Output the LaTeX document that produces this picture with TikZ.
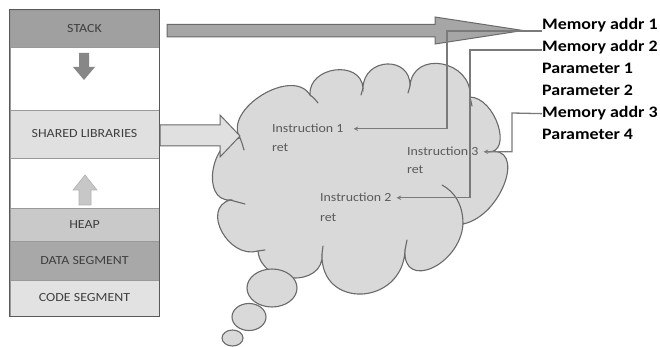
\documentclass[tikz,border=0pt]{standalone}
\usepackage{fontspec}
\setmainfont{Carlito}[FakeStretch=1.12]
\usetikzlibrary{arrows.meta}
\definecolor{stackc}{HTML}{A0A0A0}
\definecolor{sharedc}{HTML}{E0E0E0}
\definecolor{heapc}{HTML}{C9C9C9}
\definecolor{datac}{HTML}{A8A8A8}
\definecolor{codec}{HTML}{E2E2E2}
\definecolor{boxtext}{HTML}{3F3F3F}
\definecolor{cloudfill}{HTML}{D9D9D9}
\definecolor{cloudline}{HTML}{6A6A6A}
\definecolor{connc}{HTML}{7A7A7A}
\definecolor{instc}{HTML}{5A5A5A}
\tikzset{
  rowbox/.style={minimum width=149pt, inner sep=0pt, draw=black!40, line width=0.6pt,
    text=boxtext, font=\fontsize{12.4}{14}\selectfont},
  cloudshape/.style={fill=cloudfill, draw=cloudline, line width=1.1pt},
  curl/.style={draw=cloudline, line width=1.1pt, line cap=round},
  blockarrow/.style={draw=cloudline, line width=1pt, line join=miter},
  conn/.style={draw=connc, line width=1.3pt, -{Stealth[length=4.5pt,width=4.5pt]}},
  inst/.style={anchor=base west, inner sep=0pt, text=instc, font=\fontsize{12.4}{14}\selectfont},
  mem/.style={anchor=base west, inner sep=0pt, text=black, font=\fontsize{16}{18}\selectfont\bfseries},
}
\begin{document}
\begin{tikzpicture}[x=1pt,y=-1pt]
\useasboundingbox (0,0) rectangle (660,347);
\fill[white] (0,0) rectangle (660,347);

% memory column
\node[rowbox, fill=stackc, minimum height=37pt] (stack) at (84.5,28.5) {STACK};
\node[rowbox, fill=white, minimum height=63pt] (gap1) at (84.5,78.5) {};
\node[rowbox, fill=sharedc, minimum height=48pt] (shared) at (84.5,134) {SHARED LIBRARIES};
\node[rowbox, fill=white, minimum height=50pt] (gap2) at (84.5,183) {};
\node[rowbox, fill=heapc, minimum height=33pt] (heap) at (84.5,224.5) {HEAP};
\node[rowbox, fill=datac, minimum height=39pt] (data) at (84.5,260.5) {DATA SEGMENT};
\node[rowbox, fill=codec, minimum height=36pt] (code) at (84.5,298) {CODE SEGMENT};
\draw[black!65, line width=1.4pt] (stack.north west) rectangle (code.south east);

% growth arrows
\fill[black!47] (79,53) -- (89,53) -- (89,67) -- (95,67) -- (84,80) -- (73,67) -- (79,67) -- cycle;
\filldraw[fill=black!22, draw=black!30, line width=0.6pt]
  (85,175) -- (97,190) -- (91,190) -- (91,205) -- (79,205) -- (79,190) -- (73,190) -- cycle;

% cloud
\path[cloudshape] (240,138)
 .. controls (222.7,109.3) and (292.7,66.3) .. (310,95)
 .. controls (308,66.3) and (361,59.3) .. (363,88)
 .. controls (363.7,57.3) and (410.7,55.3) .. (410,86)
 .. controls (412.7,49.3) and (472.7,60.3) .. (470,97)
 .. controls (495.3,97.7) and (513.3,152.7) .. (488,152)
 .. controls (527.3,144) and (502.3,216) .. (463,224)
 .. controls (460.3,265.3) and (402.3,291.3) .. (405,250)
 .. controls (403,306) and (320,310) .. (322,254)
 .. controls (324.7,288) and (260.7,285) .. (258,251)
 .. controls (228.7,259.7) and (200.7,208.7) .. (230,200)
 .. controls (200.7,201.3) and (210.7,139.3) .. (240,138) -- cycle;
\draw[curl] (240,138) .. controls (242,143) .. (244,150);
\draw[curl] (310,95) .. controls (314,98) .. (318,103);
\draw[curl] (363,88) -- (361,95);
\draw[curl] (410,86) -- (408,93);
\draw[curl] (470,97) .. controls (471,101) .. (472,106);
\draw[curl] (463,224) .. controls (463,205) and (455,192) .. (442,185);
\draw[curl] (405,250) -- (407,240);
\draw[curl] (322,254) -- (323,246);
\draw[curl] (258,251) -- (265,250);
\draw[curl] (230,200) -- (245,204);
\draw[cloudshape] (272,288) ellipse [x radius=25pt, y radius=19pt];
\draw[cloudshape] (249,317) ellipse [x radius=17pt, y radius=13.5pt];
\draw[cloudshape] (232.5,338) ellipse [x radius=10.5pt, y radius=8pt];

% block arrows
\filldraw[blockarrow, fill=black!35] (167,24.5) -- (435,24.5) -- (435,17) -- (523,30.5)
  -- (435,44) -- (435,37) -- (167,37) -- cycle;
\filldraw[blockarrow, fill=sharedc] (160,125) -- (220,125) -- (220,115) -- (240,136)
  -- (220,157) -- (220,146) -- (160,146) -- cycle;

% instructions
\node[inst] (i1) at (272,133) {Instruction 1};
\node[inst] (r1) at (272,152) {ret};
\node[inst] (i3) at (407,156) {Instruction 3};
\node[inst] (r3) at (407,174) {ret};
\node[inst] (i2) at (320,202) {Instruction 2};
\node[inst] (r2) at (320,221) {ret};

% stack frame labels
\node[mem] (m1) at (542,30) {Memory addr 1};
\node[mem] (m2) at (542,52) {Memory addr 2};
\node[mem] (p1) at (542,74) {Parameter 1};
\node[mem] (p2) at (542,96) {Parameter 2};
\node[mem] (m3) at (542,118) {Memory addr 3};
\node[mem] (p4) at (542,140) {Parameter 4};

% connectors
\coordinate (k1) at (447,31);
\coordinate (k2) at (470,50);
\coordinate (k3) at (512,113);
\draw[conn] ([yshift=-1pt]m1.base west) -- (k1) |- ([xshift=10pt]i1.east);
\draw[conn] ([yshift=2pt]m2.base west) -- (k2) |- ([xshift=5pt]i2.east);
\draw[conn] (m3.west) -- (k3) |- ([xshift=5pt]i3.east);
\end{tikzpicture}
\end{document}
